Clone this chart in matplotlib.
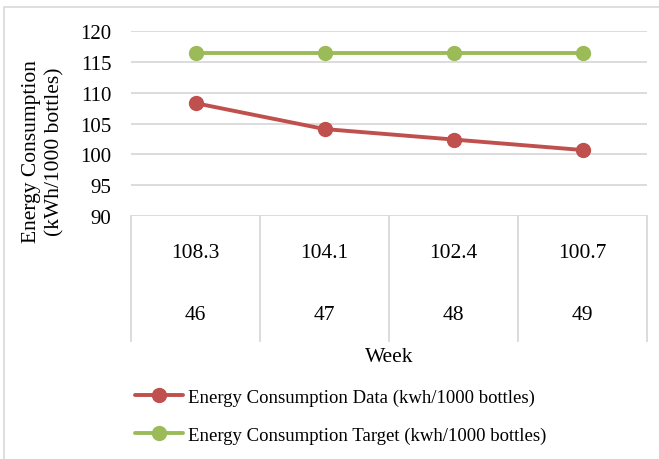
import matplotlib.pyplot as plt
from matplotlib.patches import Rectangle
from matplotlib.lines import Line2D
import matplotlib.transforms as mtransforms

plt.rcParams['font.family'] = ['Liberation Serif', 'DejaVu Serif']

# weekly energy data
weeks = ['46', '47', '48', '49']
consumo = [108.3, 104.1, 102.4, 100.7]
objetivo = [116.5, 116.5, 116.5, 116.5]
yticks = [90, 95, 100, 105, 110, 115, 120]

rojo = '#c0504d'
verde = '#9bbb59'
gris = '#d9d9d9'

fig = plt.figure(figsize=(6.59, 4.60), dpi=100)
W, H = 659, 460

# light outer frame of the chart area
fig.patches.append(Rectangle((4 / W, -0.05), 1.0, 1 - 8 / H + 0.05,
                             transform=fig.transFigure, fill=False,
                             edgecolor=gris, linewidth=1.2))

ax = fig.add_axes([131 / W, 1 - 217 / H, 516 / W, 185 / H])
x = list(range(len(weeks)))

ax.plot(x, consumo, color=rojo, lw=2.8, marker='o', ms=10,
        solid_capstyle='round', label='Energy Consumption Data (kwh/1000 bottles)')
ax.plot(x, objetivo, color=verde, lw=2.8, marker='o', ms=10,
        solid_capstyle='round', label='Energy Consumption Target (kwh/1000 bottles)')

ax.set_xlim(-0.5, len(weeks) - 0.5)
ax.set_ylim(90, 120)
ax.set_yticks(yticks)
ax.set_xticks([])
ax.tick_params(axis='y', length=0, pad=14, labelsize=15)
ax.grid(axis='y', color=gris, lw=1.3)
ax.set_axisbelow(True)
for s in ax.spines.values():
    s.set_visible(False)

fig.text(43 / W, 1 - 152 / H, 'Energy Consumption\n(kWh/1000 bottles)',
         rotation=90, ha='center', va='center', fontsize=15.5,
         linespacing=1.3, multialignment='center')

# data table under the axis
tr = mtransforms.blended_transform_factory(ax.transData, ax.transAxes)
bajo = (217 - 342) / 185
for b in [i - 0.5 for i in range(len(weeks) + 1)]:
    ax.add_line(Line2D([b, b], [0, bajo], transform=tr, color=gris,
                       lw=1.3, clip_on=False))
for i in x:
    ax.text(i, (217 - 253) / 185, f'{consumo[i]:.1f}', transform=tr,
            ha='center', va='center', fontsize=15.5)
    ax.text(i, (217 - 316) / 185, weeks[i], transform=tr,
            ha='center', va='center', fontsize=15.5)

ax.text(0.5, (217 - 358) / 185, 'Week', transform=ax.transAxes,
        ha='center', va='center', fontsize=15.5)

fig.legend(loc='upper left', bbox_to_anchor=(127 / W, 1 - 382 / H),
           frameon=False, fontsize=13.5, handlelength=2.6, handletextpad=0.25,
           labelspacing=1.1, borderaxespad=0)

fig.savefig('out.png', dpi=100)
